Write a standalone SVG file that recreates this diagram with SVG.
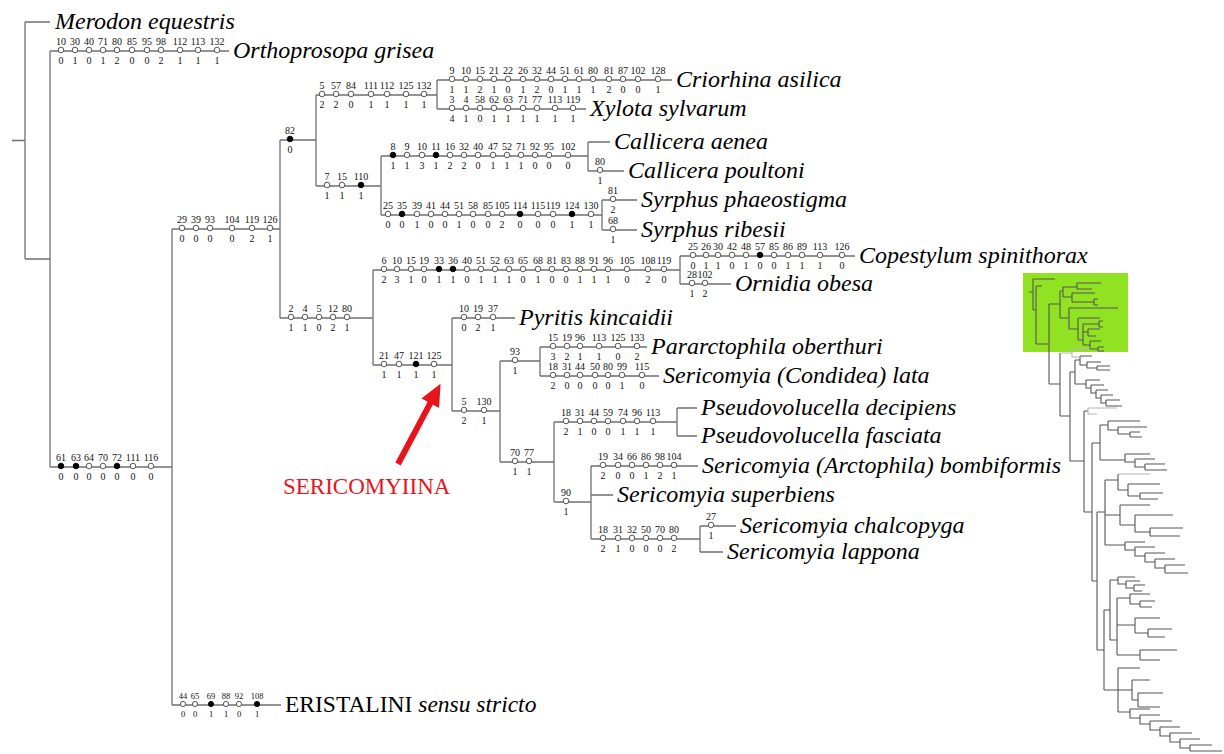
<svg xmlns="http://www.w3.org/2000/svg" width="1224" height="754" viewBox="0 0 1224 754">
<style>
.br{fill:none;stroke:#707070;stroke-width:1.3}
.o{fill:#fff;stroke:#444;stroke-width:0.9}
.f{fill:#000;stroke:#000;stroke-width:0.9}
.n{font-family:"Liberation Serif",serif;font-size:10px;text-anchor:middle;fill:#111}
.e{font-family:"Liberation Serif",serif;font-size:8.5px;text-anchor:middle;fill:#111}
.t{font-family:"Liberation Serif",serif;font-style:italic;font-size:24px;fill:#000}
.r{font-family:"Liberation Serif",serif;font-size:23.5px;fill:#000}
.mt{fill:none;stroke:#555;stroke-width:1.1}
.ml{fill:none;stroke:#b4b4b4;stroke-width:1.1}
</style>
<defs>
<marker id="ah" markerUnits="userSpaceOnUse" markerWidth="22" markerHeight="20" viewBox="0 0 22 20" refX="1" refY="10" orient="auto"><path d="M0,0 L22,10 L0,20 z" fill="#e8141c"/></marker>
</defs>
<rect width="1224" height="754" fill="#fff"/>

<g id="connectors">
<path class="br" d="M12,140.5 H25 M25,22 V259 M25,22 H50 M25,259 H50
M50,51 V467 M50,51 H229 M50,467 H172
M172,229 V705 M172,229 H280 M172,705 H281
M280,140 V318 M280,140 H316 M280,318 H373
M316,95 V186 M316,95 H437 M316,186 H381
M437,80 V109 M437,80 H672 M437,109 H586
M381,156 V215 M381,156 H588 M381,215 H602
M588,142 V171 M588,142 H610 M588,171 H624
M602,200 V230 M602,200 H637 M602,230 H637
M373,270 V365 M373,270 H680 M373,365 H452
M680,256 V284 M680,256 H855 M680,284 H731
M452,318 V411 M452,318 H515 M452,411 H500
M500,361 V462 M500,361 H540 M500,462 H554
M540,347 V376 M540,347 H647 M540,376 H659
M554,422 V502 M554,422 H677 M554,502 H591
M677,408 V436 M677,408 H697 M677,436 H697
M591,466 V539 M591,466 H698 M591,495 H613 M591,539 H700
M700,526 V552 M700,526 H736 M700,552 H723"/>
</g>

<g id="taxon-merodon"><text class="t" x="55" y="29">Merodon equestris</text></g>
<g id="taxon-orthoprosopa">
<text class="t" x="233" y="58">Orthoprosopa grisea</text>
<circle class="o" cx="61" cy="50" r="2.8"/><circle class="o" cx="75" cy="50" r="2.8"/><circle class="o" cx="89" cy="50" r="2.8"/><circle class="o" cx="103" cy="50" r="2.8"/><circle class="o" cx="117" cy="50" r="2.8"/><circle class="o" cx="132" cy="50" r="2.8"/><circle class="o" cx="147" cy="50" r="2.8"/><circle class="o" cx="161" cy="50" r="2.8"/><circle class="o" cx="180" cy="50" r="2.8"/><circle class="o" cx="198" cy="50" r="2.8"/><circle class="o" cx="217" cy="50" r="2.8"/>
<text class="n" x="61" y="45">10</text><text class="n" x="75" y="45">30</text><text class="n" x="89" y="45">40</text><text class="n" x="103" y="45">71</text><text class="n" x="117" y="45">80</text><text class="n" x="132" y="45">85</text><text class="n" x="147" y="45">95</text><text class="n" x="161" y="45">98</text><text class="n" x="180" y="45">112</text><text class="n" x="198" y="45">113</text><text class="n" x="217" y="45">132</text>
<text class="n" x="61" y="64">0</text><text class="n" x="75" y="64">1</text><text class="n" x="89" y="64">0</text><text class="n" x="103" y="64">1</text><text class="n" x="117" y="64">2</text><text class="n" x="132" y="64">0</text><text class="n" x="147" y="64">0</text><text class="n" x="161" y="64">2</text><text class="n" x="180" y="64">1</text><text class="n" x="198" y="64">1</text><text class="n" x="217" y="64">1</text>
</g>

<g id="node-5-57">
<circle class="o" cx="322" cy="94" r="2.8"/><circle class="o" cx="336" cy="94" r="2.8"/><circle class="o" cx="351" cy="94" r="2.8"/><circle class="o" cx="371" cy="94" r="2.8"/><circle class="o" cx="387" cy="94" r="2.8"/><circle class="o" cx="406" cy="94" r="2.8"/><circle class="o" cx="424" cy="94" r="2.8"/>
<text class="n" x="322" y="89">5</text><text class="n" x="336" y="89">57</text><text class="n" x="351" y="89">84</text><text class="n" x="371" y="89">111</text><text class="n" x="387" y="89">112</text><text class="n" x="406" y="89">125</text><text class="n" x="424" y="89">132</text>
<text class="n" x="322" y="108">2</text><text class="n" x="336" y="108">2</text><text class="n" x="351" y="108">0</text><text class="n" x="371" y="108">1</text><text class="n" x="387" y="108">1</text><text class="n" x="406" y="108">1</text><text class="n" x="424" y="108">1</text>
</g>

<g id="taxon-criorhina">
<text class="t" x="676" y="87">Criorhina asilica</text>
<circle class="o" cx="452" cy="79" r="2.8"/><circle class="o" cx="466" cy="79" r="2.8"/><circle class="o" cx="480" cy="79" r="2.8"/><circle class="o" cx="494" cy="79" r="2.8"/><circle class="o" cx="508" cy="79" r="2.8"/><circle class="o" cx="523" cy="79" r="2.8"/><circle class="o" cx="537" cy="79" r="2.8"/><circle class="o" cx="551" cy="79" r="2.8"/><circle class="o" cx="565" cy="79" r="2.8"/><circle class="o" cx="579" cy="79" r="2.8"/><circle class="o" cx="593" cy="79" r="2.8"/><circle class="o" cx="609" cy="79" r="2.8"/><circle class="o" cx="623" cy="79" r="2.8"/><circle class="o" cx="638" cy="79" r="2.8"/><circle class="o" cx="658" cy="79" r="2.8"/>
<text class="n" x="452" y="74">9</text><text class="n" x="466" y="74">10</text><text class="n" x="480" y="74">15</text><text class="n" x="494" y="74">21</text><text class="n" x="508" y="74">22</text><text class="n" x="523" y="74">26</text><text class="n" x="537" y="74">32</text><text class="n" x="551" y="74">44</text><text class="n" x="565" y="74">51</text><text class="n" x="579" y="74">61</text><text class="n" x="593" y="74">80</text><text class="n" x="609" y="74">81</text><text class="n" x="623" y="74">87</text><text class="n" x="638" y="74">102</text><text class="n" x="658" y="74">128</text>
<text class="n" x="452" y="93">1</text><text class="n" x="466" y="93">1</text><text class="n" x="480" y="93">2</text><text class="n" x="494" y="93">1</text><text class="n" x="508" y="93">0</text><text class="n" x="523" y="93">1</text><text class="n" x="537" y="93">2</text><text class="n" x="551" y="93">0</text><text class="n" x="565" y="93">1</text><text class="n" x="579" y="93">1</text><text class="n" x="593" y="93">1</text><text class="n" x="609" y="93">2</text><text class="n" x="623" y="93">0</text><text class="n" x="638" y="93">0</text><text class="n" x="658" y="93">1</text>
</g>

<g id="taxon-xylota">
<text class="t" x="590" y="116">Xylota sylvarum</text>
<circle class="o" cx="452" cy="108" r="2.8"/><circle class="o" cx="466" cy="108" r="2.8"/><circle class="o" cx="480" cy="108" r="2.8"/><circle class="o" cx="494" cy="108" r="2.8"/><circle class="o" cx="508" cy="108" r="2.8"/><circle class="o" cx="523" cy="108" r="2.8"/><circle class="o" cx="537" cy="108" r="2.8"/><circle class="o" cx="555" cy="108" r="2.8"/><circle class="o" cx="573" cy="108" r="2.8"/>
<text class="n" x="452" y="103">3</text><text class="n" x="466" y="103">4</text><text class="n" x="480" y="103">58</text><text class="n" x="494" y="103">62</text><text class="n" x="508" y="103">63</text><text class="n" x="523" y="103">71</text><text class="n" x="537" y="103">77</text><text class="n" x="555" y="103">113</text><text class="n" x="573" y="103">119</text>
<text class="n" x="452" y="122">4</text><text class="n" x="466" y="122">1</text><text class="n" x="480" y="122">0</text><text class="n" x="494" y="122">1</text><text class="n" x="508" y="122">1</text><text class="n" x="523" y="122">1</text><text class="n" x="537" y="122">1</text><text class="n" x="555" y="122">1</text><text class="n" x="573" y="122">1</text>
</g>

<g id="node-82">
<circle class="f" cx="290" cy="139" r="2.8"/>
<text class="n" x="290" y="134">82</text><text class="n" x="290" y="153">0</text>
</g>

<g id="node-7-15">
<circle class="o" cx="327" cy="185" r="2.8"/><circle class="o" cx="342" cy="185" r="2.8"/><circle class="f" cx="361" cy="185" r="2.8"/>
<text class="n" x="327" y="180">7</text><text class="n" x="342" y="180">15</text><text class="n" x="361" y="180">110</text>
<text class="n" x="327" y="199">1</text><text class="n" x="342" y="199">1</text><text class="n" x="361" y="199">1</text>
</g>

<g id="node-callicera">
<circle class="f" cx="393" cy="155" r="2.8"/><circle class="o" cx="407" cy="155" r="2.8"/><circle class="o" cx="422" cy="155" r="2.8"/><circle class="f" cx="436" cy="155" r="2.8"/><circle class="o" cx="450" cy="155" r="2.8"/><circle class="o" cx="464" cy="155" r="2.8"/><circle class="o" cx="478" cy="155" r="2.8"/><circle class="o" cx="493" cy="155" r="2.8"/><circle class="o" cx="507" cy="155" r="2.8"/><circle class="o" cx="521" cy="155" r="2.8"/><circle class="o" cx="535" cy="155" r="2.8"/><circle class="o" cx="549" cy="155" r="2.8"/><circle class="o" cx="568" cy="155" r="2.8"/>
<text class="n" x="393" y="150">8</text><text class="n" x="407" y="150">9</text><text class="n" x="422" y="150">10</text><text class="n" x="436" y="150">11</text><text class="n" x="450" y="150">16</text><text class="n" x="464" y="150">32</text><text class="n" x="478" y="150">40</text><text class="n" x="493" y="150">47</text><text class="n" x="507" y="150">52</text><text class="n" x="521" y="150">71</text><text class="n" x="535" y="150">92</text><text class="n" x="549" y="150">95</text><text class="n" x="568" y="150">102</text>
<text class="n" x="393" y="169">1</text><text class="n" x="407" y="169">1</text><text class="n" x="422" y="169">3</text><text class="n" x="436" y="169">1</text><text class="n" x="450" y="169">2</text><text class="n" x="464" y="169">2</text><text class="n" x="478" y="169">0</text><text class="n" x="493" y="169">1</text><text class="n" x="507" y="169">1</text><text class="n" x="521" y="169">1</text><text class="n" x="535" y="169">0</text><text class="n" x="549" y="169">0</text><text class="n" x="568" y="169">0</text>
</g>
<g id="taxon-callicera-aenea"><text class="t" x="614" y="149">Callicera aenea</text></g>
<g id="taxon-callicera-poultoni">
<text class="t" x="628" y="178">Callicera poultoni</text>
<circle class="o" cx="600" cy="170" r="2.8"/><text class="n" x="600" y="165">80</text><text class="n" x="600" y="184">1</text>
</g>

<g id="node-syrphus">
<circle class="o" cx="388" cy="214" r="2.8"/><circle class="f" cx="402" cy="214" r="2.8"/><circle class="o" cx="417" cy="214" r="2.8"/><circle class="o" cx="431" cy="214" r="2.8"/><circle class="o" cx="445" cy="214" r="2.8"/><circle class="o" cx="459" cy="214" r="2.8"/><circle class="o" cx="473" cy="214" r="2.8"/><circle class="o" cx="488" cy="214" r="2.8"/><circle class="o" cx="502" cy="214" r="2.8"/><circle class="f" cx="520" cy="214" r="2.8"/><circle class="o" cx="538" cy="214" r="2.8"/><circle class="o" cx="553" cy="214" r="2.8"/><circle class="f" cx="572" cy="214" r="2.8"/><circle class="o" cx="591" cy="214" r="2.8"/>
<text class="n" x="388" y="209">25</text><text class="n" x="402" y="209">35</text><text class="n" x="417" y="209">39</text><text class="n" x="431" y="209">41</text><text class="n" x="445" y="209">44</text><text class="n" x="459" y="209">51</text><text class="n" x="473" y="209">58</text><text class="n" x="488" y="209">85</text><text class="n" x="502" y="209">105</text><text class="n" x="520" y="209">114</text><text class="n" x="538" y="209">115</text><text class="n" x="553" y="209">119</text><text class="n" x="572" y="209">124</text><text class="n" x="591" y="209">130</text>
<text class="n" x="388" y="228">0</text><text class="n" x="402" y="228">0</text><text class="n" x="417" y="228">1</text><text class="n" x="431" y="228">0</text><text class="n" x="445" y="228">0</text><text class="n" x="459" y="228">1</text><text class="n" x="473" y="228">0</text><text class="n" x="488" y="228">0</text><text class="n" x="502" y="228">2</text><text class="n" x="520" y="228">0</text><text class="n" x="538" y="228">0</text><text class="n" x="553" y="228">0</text><text class="n" x="572" y="228">1</text><text class="n" x="591" y="228">1</text>
</g>
<g id="taxon-syrphus-phaeostigma">
<text class="t" x="641" y="207">Syrphus phaeostigma</text>
<circle class="o" cx="613" cy="199" r="2.8"/><text class="n" x="613" y="194">81</text><text class="n" x="613" y="213">2</text>
</g>
<g id="taxon-syrphus-ribesii">
<text class="t" x="641" y="237">Syrphus ribesii</text>
<circle class="o" cx="613" cy="229" r="2.8"/><text class="n" x="613" y="224">68</text><text class="n" x="613" y="243">1</text>
</g>

<g id="node-29-39">
<circle class="o" cx="182" cy="228" r="2.8"/><circle class="o" cx="196" cy="228" r="2.8"/><circle class="o" cx="210" cy="228" r="2.8"/><circle class="o" cx="232" cy="228" r="2.8"/><circle class="o" cx="252" cy="228" r="2.8"/><circle class="o" cx="270" cy="228" r="2.8"/>
<text class="n" x="182" y="223">29</text><text class="n" x="196" y="223">39</text><text class="n" x="210" y="223">93</text><text class="n" x="232" y="223">104</text><text class="n" x="252" y="223">119</text><text class="n" x="270" y="223">126</text>
<text class="n" x="182" y="242">0</text><text class="n" x="196" y="242">0</text><text class="n" x="210" y="242">0</text><text class="n" x="232" y="242">0</text><text class="n" x="252" y="242">2</text><text class="n" x="270" y="242">1</text>
</g>

<g id="node-6-10">
<circle class="o" cx="384" cy="269" r="2.8"/><circle class="o" cx="397" cy="269" r="2.8"/><circle class="o" cx="411" cy="269" r="2.8"/><circle class="o" cx="424" cy="269" r="2.8"/><circle class="f" cx="439" cy="269" r="2.8"/><circle class="f" cx="453" cy="269" r="2.8"/><circle class="o" cx="467" cy="269" r="2.8"/><circle class="o" cx="481" cy="269" r="2.8"/><circle class="o" cx="495" cy="269" r="2.8"/><circle class="o" cx="509" cy="269" r="2.8"/><circle class="o" cx="523" cy="269" r="2.8"/><circle class="o" cx="538" cy="269" r="2.8"/><circle class="o" cx="552" cy="269" r="2.8"/><circle class="o" cx="566" cy="269" r="2.8"/><circle class="o" cx="580" cy="269" r="2.8"/><circle class="o" cx="594" cy="269" r="2.8"/><circle class="o" cx="608" cy="269" r="2.8"/><circle class="o" cx="627" cy="269" r="2.8"/><circle class="o" cx="648" cy="269" r="2.8"/><circle class="o" cx="664" cy="269" r="2.8"/>
<text class="n" x="384" y="264">6</text><text class="n" x="397" y="264">10</text><text class="n" x="411" y="264">15</text><text class="n" x="424" y="264">19</text><text class="n" x="439" y="264">33</text><text class="n" x="453" y="264">36</text><text class="n" x="467" y="264">40</text><text class="n" x="481" y="264">51</text><text class="n" x="495" y="264">52</text><text class="n" x="509" y="264">63</text><text class="n" x="523" y="264">65</text><text class="n" x="538" y="264">68</text><text class="n" x="552" y="264">81</text><text class="n" x="566" y="264">83</text><text class="n" x="580" y="264">88</text><text class="n" x="594" y="264">91</text><text class="n" x="608" y="264">96</text><text class="n" x="627" y="264">105</text><text class="n" x="648" y="264">108</text><text class="n" x="664" y="264">119</text>
<text class="n" x="384" y="283">2</text><text class="n" x="397" y="283">3</text><text class="n" x="411" y="283">1</text><text class="n" x="424" y="283">0</text><text class="n" x="439" y="283">1</text><text class="n" x="453" y="283">1</text><text class="n" x="467" y="283">0</text><text class="n" x="481" y="283">1</text><text class="n" x="495" y="283">1</text><text class="n" x="509" y="283">1</text><text class="n" x="523" y="283">0</text><text class="n" x="538" y="283">1</text><text class="n" x="552" y="283">0</text><text class="n" x="566" y="283">0</text><text class="n" x="580" y="283">1</text><text class="n" x="594" y="283">1</text><text class="n" x="608" y="283">1</text><text class="n" x="627" y="283">0</text><text class="n" x="648" y="283">2</text><text class="n" x="664" y="283">0</text>
</g>

<g id="taxon-copestylum">
<text class="t" x="859" y="263">Copestylum spinithorax</text>
<circle class="o" cx="693" cy="255" r="2.8"/><circle class="o" cx="706" cy="255" r="2.8"/><circle class="o" cx="718" cy="255" r="2.8"/><circle class="o" cx="732" cy="255" r="2.8"/><circle class="o" cx="746" cy="255" r="2.8"/><circle class="f" cx="760" cy="255" r="2.8"/><circle class="o" cx="774" cy="255" r="2.8"/><circle class="o" cx="788" cy="255" r="2.8"/><circle class="o" cx="802" cy="255" r="2.8"/><circle class="o" cx="820" cy="255" r="2.8"/><circle class="o" cx="842" cy="255" r="2.8"/>
<text class="n" x="693" y="250">25</text><text class="n" x="706" y="250">26</text><text class="n" x="718" y="250">30</text><text class="n" x="732" y="250">42</text><text class="n" x="746" y="250">48</text><text class="n" x="760" y="250">57</text><text class="n" x="774" y="250">85</text><text class="n" x="788" y="250">86</text><text class="n" x="802" y="250">89</text><text class="n" x="820" y="250">113</text><text class="n" x="842" y="250">126</text>
<text class="n" x="693" y="269">0</text><text class="n" x="706" y="269">1</text><text class="n" x="718" y="269">1</text><text class="n" x="732" y="269">0</text><text class="n" x="746" y="269">1</text><text class="n" x="760" y="269">0</text><text class="n" x="774" y="269">0</text><text class="n" x="788" y="269">1</text><text class="n" x="802" y="269">1</text><text class="n" x="820" y="269">1</text><text class="n" x="842" y="269">0</text>
</g>
<g id="taxon-ornidia">
<text class="t" x="735" y="291">Ornidia obesa</text>
<circle class="o" cx="692" cy="283" r="2.8"/><circle class="o" cx="705" cy="283" r="2.8"/>
<text class="n" x="692" y="278">28</text><text class="n" x="705" y="278">102</text>
<text class="n" x="692" y="297">1</text><text class="n" x="705" y="297">2</text>
</g>

<g id="node-2-4">
<circle class="o" cx="291" cy="317" r="2.8"/><circle class="o" cx="305" cy="317" r="2.8"/><circle class="o" cx="319" cy="317" r="2.8"/><circle class="o" cx="333" cy="317" r="2.8"/><circle class="o" cx="347" cy="317" r="2.8"/>
<text class="n" x="291" y="312">2</text><text class="n" x="305" y="312">4</text><text class="n" x="319" y="312">5</text><text class="n" x="333" y="312">12</text><text class="n" x="347" y="312">80</text>
<text class="n" x="291" y="331">1</text><text class="n" x="305" y="331">1</text><text class="n" x="319" y="331">0</text><text class="n" x="333" y="331">2</text><text class="n" x="347" y="331">1</text>
</g>

<g id="node-sericomyiina">
<circle class="o" cx="384" cy="364" r="2.8"/><circle class="o" cx="399" cy="364" r="2.8"/><circle class="f" cx="416" cy="364" r="2.8"/><circle class="o" cx="434" cy="364" r="2.8"/>
<text class="n" x="384" y="359">21</text><text class="n" x="399" y="359">47</text><text class="n" x="416" y="359">121</text><text class="n" x="434" y="359">125</text>
<text class="n" x="384" y="378">1</text><text class="n" x="399" y="378">1</text><text class="n" x="416" y="378">1</text><text class="n" x="434" y="378">1</text>
</g>

<g id="taxon-pyritis">
<text class="t" x="519" y="325">Pyritis kincaidii</text>
<circle class="o" cx="464" cy="317" r="2.8"/><circle class="o" cx="478" cy="317" r="2.8"/><circle class="o" cx="493" cy="317" r="2.8"/>
<text class="n" x="464" y="312">10</text><text class="n" x="478" y="312">19</text><text class="n" x="493" y="312">37</text>
<text class="n" x="464" y="331">0</text><text class="n" x="478" y="331">2</text><text class="n" x="493" y="331">1</text>
</g>

<g id="node-5-130">
<circle class="o" cx="464" cy="410" r="2.8"/><circle class="o" cx="484" cy="410" r="2.8"/>
<text class="n" x="464" y="405">5</text><text class="n" x="484" y="405">130</text>
<text class="n" x="464" y="424">2</text><text class="n" x="484" y="424">1</text>
</g>

<g id="node-93">
<circle class="o" cx="515" cy="360" r="2.8"/><text class="n" x="515" y="355">93</text><text class="n" x="515" y="374">1</text>
</g>

<g id="taxon-pararctophila">
<text class="t" x="651" y="354">Pararctophila oberthuri</text>
<circle class="o" cx="553" cy="346" r="2.8"/><circle class="o" cx="567" cy="346" r="2.8"/><circle class="o" cx="580" cy="346" r="2.8"/><circle class="o" cx="599" cy="346" r="2.8"/><circle class="o" cx="618" cy="346" r="2.8"/><circle class="o" cx="637" cy="346" r="2.8"/>
<text class="n" x="553" y="341">15</text><text class="n" x="567" y="341">19</text><text class="n" x="580" y="341">96</text><text class="n" x="599" y="341">113</text><text class="n" x="618" y="341">125</text><text class="n" x="637" y="341">133</text>
<text class="n" x="553" y="360">3</text><text class="n" x="567" y="360">2</text><text class="n" x="580" y="360">1</text><text class="n" x="599" y="360">1</text><text class="n" x="618" y="360">0</text><text class="n" x="637" y="360">2</text>
</g>
<g id="taxon-sericomyia-lata">
<text class="t" x="663" y="383">Sericomyia (Condidea) lata</text>
<circle class="o" cx="553" cy="375" r="2.8"/><circle class="o" cx="567" cy="375" r="2.8"/><circle class="o" cx="580" cy="375" r="2.8"/><circle class="o" cx="595" cy="375" r="2.8"/><circle class="o" cx="608" cy="375" r="2.8"/><circle class="o" cx="622" cy="375" r="2.8"/><circle class="o" cx="642" cy="375" r="2.8"/>
<text class="n" x="553" y="370">18</text><text class="n" x="567" y="370">31</text><text class="n" x="580" y="370">44</text><text class="n" x="595" y="370">50</text><text class="n" x="608" y="370">80</text><text class="n" x="622" y="370">99</text><text class="n" x="642" y="370">115</text>
<text class="n" x="553" y="389">2</text><text class="n" x="567" y="389">0</text><text class="n" x="580" y="389">0</text><text class="n" x="595" y="389">0</text><text class="n" x="608" y="389">0</text><text class="n" x="622" y="389">1</text><text class="n" x="642" y="389">0</text>
</g>

<g id="node-70-77">
<circle class="o" cx="515" cy="461" r="2.8"/><circle class="o" cx="529" cy="461" r="2.8"/>
<text class="n" x="515" y="456">70</text><text class="n" x="529" y="456">77</text>
<text class="n" x="515" y="475">1</text><text class="n" x="529" y="475">1</text>
</g>

<g id="node-pseudovolucella">
<circle class="o" cx="566" cy="421" r="2.8"/><circle class="o" cx="580" cy="421" r="2.8"/><circle class="o" cx="594" cy="421" r="2.8"/><circle class="o" cx="608" cy="421" r="2.8"/><circle class="o" cx="623" cy="421" r="2.8"/><circle class="o" cx="637" cy="421" r="2.8"/><circle class="o" cx="653" cy="421" r="2.8"/>
<text class="n" x="566" y="416">18</text><text class="n" x="580" y="416">31</text><text class="n" x="594" y="416">44</text><text class="n" x="608" y="416">59</text><text class="n" x="623" y="416">74</text><text class="n" x="637" y="416">96</text><text class="n" x="653" y="416">113</text>
<text class="n" x="566" y="435">2</text><text class="n" x="580" y="435">1</text><text class="n" x="594" y="435">0</text><text class="n" x="608" y="435">0</text><text class="n" x="623" y="435">1</text><text class="n" x="637" y="435">1</text><text class="n" x="653" y="435">1</text>
</g>
<g id="taxon-pseudovolucella-decipiens"><text class="t" x="701" y="415">Pseudovolucella decipiens</text></g>
<g id="taxon-pseudovolucella-fasciata"><text class="t" x="701" y="443">Pseudovolucella fasciata</text></g>

<g id="node-90">
<circle class="o" cx="566" cy="501" r="2.8"/><text class="n" x="566" y="496">90</text><text class="n" x="566" y="515">1</text>
</g>

<g id="taxon-sericomyia-bombiformis">
<text class="t" x="702" y="473">Sericomyia (Arctophila) bombiformis</text>
<circle class="o" cx="603" cy="465" r="2.8"/><circle class="o" cx="618" cy="465" r="2.8"/><circle class="o" cx="632" cy="465" r="2.8"/><circle class="o" cx="646" cy="465" r="2.8"/><circle class="o" cx="660" cy="465" r="2.8"/><circle class="o" cx="674" cy="465" r="2.8"/>
<text class="n" x="603" y="460">19</text><text class="n" x="618" y="460">34</text><text class="n" x="632" y="460">66</text><text class="n" x="646" y="460">86</text><text class="n" x="660" y="460">98</text><text class="n" x="674" y="460">104</text>
<text class="n" x="603" y="479">2</text><text class="n" x="618" y="479">0</text><text class="n" x="632" y="479">0</text><text class="n" x="646" y="479">1</text><text class="n" x="660" y="479">2</text><text class="n" x="674" y="479">1</text>
</g>
<g id="taxon-sericomyia-superbiens"><text class="t" x="617" y="502">Sericomyia superbiens</text></g>

<g id="node-18-31-32">
<circle class="o" cx="603" cy="538" r="2.8"/><circle class="o" cx="618" cy="538" r="2.8"/><circle class="o" cx="632" cy="538" r="2.8"/><circle class="o" cx="646" cy="538" r="2.8"/><circle class="o" cx="660" cy="538" r="2.8"/><circle class="o" cx="674" cy="538" r="2.8"/>
<text class="n" x="603" y="533">18</text><text class="n" x="618" y="533">31</text><text class="n" x="632" y="533">32</text><text class="n" x="646" y="533">50</text><text class="n" x="660" y="533">70</text><text class="n" x="674" y="533">80</text>
<text class="n" x="603" y="552">2</text><text class="n" x="618" y="552">1</text><text class="n" x="632" y="552">0</text><text class="n" x="646" y="552">0</text><text class="n" x="660" y="552">0</text><text class="n" x="674" y="552">2</text>
</g>
<g id="taxon-sericomyia-chalcopyga">
<text class="t" x="740" y="533">Sericomyia chalcopyga</text>
<circle class="o" cx="711" cy="525" r="2.8"/><text class="n" x="711" y="520">27</text><text class="n" x="711" y="539">1</text>
</g>
<g id="taxon-sericomyia-lappona"><text class="t" x="727" y="559">Sericomyia lappona</text></g>

<g id="node-61-63">
<circle class="f" cx="61" cy="466" r="2.8"/><circle class="f" cx="76" cy="466" r="2.8"/><circle class="o" cx="89" cy="466" r="2.8"/><circle class="o" cx="103" cy="466" r="2.8"/><circle class="f" cx="117" cy="466" r="2.8"/><circle class="o" cx="133" cy="466" r="2.8"/><circle class="o" cx="151" cy="466" r="2.8"/>
<text class="n" x="61" y="461">61</text><text class="n" x="76" y="461">63</text><text class="n" x="89" y="461">64</text><text class="n" x="103" y="461">70</text><text class="n" x="117" y="461">72</text><text class="n" x="133" y="461">111</text><text class="n" x="151" y="461">116</text>
<text class="n" x="61" y="480">0</text><text class="n" x="76" y="480">0</text><text class="n" x="89" y="480">0</text><text class="n" x="103" y="480">0</text><text class="n" x="117" y="480">0</text><text class="n" x="133" y="480">0</text><text class="n" x="151" y="480">0</text>
</g>

<g id="taxon-eristalini">
<text class="r" x="285" y="712">ERISTALINI <tspan font-style="italic">sensu stricto</tspan></text>
<circle class="o" cx="183" cy="704" r="2.6"/><circle class="o" cx="195" cy="704" r="2.6"/><circle class="f" cx="211" cy="704" r="2.6"/><circle class="o" cx="226" cy="704" r="2.6"/><circle class="o" cx="239" cy="704" r="2.6"/><circle class="f" cx="257" cy="704" r="2.6"/>
<text class="e" x="183" y="699">44</text><text class="e" x="195" y="699">65</text><text class="e" x="211" y="699">69</text><text class="e" x="226" y="699">88</text><text class="e" x="239" y="699">92</text><text class="e" x="257" y="699">108</text>
<text class="e" x="183" y="717">0</text><text class="e" x="195" y="717">0</text><text class="e" x="211" y="717">1</text><text class="e" x="226" y="717">1</text><text class="e" x="239" y="717">0</text><text class="e" x="257" y="717">1</text>
</g>

<g id="annotation-sericomyiina">
<line x1="398" y1="464" x2="430.7" y2="402.4" stroke="#e8141c" stroke-width="6" marker-end="url(#ah)"/>
<text x="283" y="494" font-family="'Liberation Serif',serif" font-size="23px" fill="#e8141c">SERICOMYIINA</text>
</g>

<g id="overview-tree">
<rect x="1023" y="273" width="105" height="79" fill="#92e224"/>
<path class="mt" d="M1029,292 H1033 M1033,279 V310 M1033,279 H1055 M1033,310 H1036 M1036,286 V344 M1036,286 H1042 M1036,344 H1049
M1049,304 V384 M1049,304 H1060
M1060,291 V318 M1060,291 H1063 M1063,287 V297 M1063,287 H1077 M1077,283 V289 M1077,283 H1101 M1077,289 H1092
M1063,297 H1072 M1072,293 V302 M1072,293 H1095 M1072,302 H1094 M1094,299 V305 M1094,299 H1098 M1094,305 H1098
M1060,318 H1069 M1069,308 V329 M1069,308 H1118 M1069,329 H1078 M1078,318 V340 M1078,318 H1100 M1078,340 H1083
M1083,324 V345 M1083,324 H1099 M1099,321 V327 M1099,321 H1103 M1099,327 H1103 M1083,332 H1088 M1088,329 V336 M1088,329 H1100 M1088,336 H1096
M1083,345 H1090 M1090,341 V349 M1090,341 H1101 M1090,349 H1098 M1098,347 V351 M1098,347 H1104 M1098,351 H1104
M1049,384 H1060 M1060,353 V416 M1060,416 H1070 M1070,372 V461 M1070,372 H1075 M1070,461 H1084 M1084,411 V512 M1084,411 H1088 M1084,512 H1092 M1092,443 V581 M1092,443 H1100 M1092,581 H1097 M1097,512 V650 M1097,512 H1105 M1097,650 H1104 M1104,610 V690 M1104,610 H1110 M1104,690 H1118
M1075,360 V384 M1075,360 H1080 M1080,356 V365 M1080,356 H1092 M1080,365 H1087 M1087,362 V368 M1087,362 H1101 M1087,368 H1097 M1097,366 V370 M1097,366 H1110 M1097,370 H1110
M1075,384 H1086 M1086,380 V388 H1091 M1086,380 H1100 M1091,385 V393 H1096 M1091,385 H1104 M1096,390 V398 H1101 M1096,390 H1108 M1101,395 V403 H1106 M1101,395 H1113 M1106,400 V406 M1106,400 H1120 M1106,406 H1122
M1100,425 V460 M1100,425 H1108 M1108,421 V430 M1108,421 H1140 M1108,430 H1118 M1118,427 V434 M1118,427 H1147 M1118,434 H1130 M1130,432 V437 M1130,432 H1140 M1130,437 H1142 M1100,460 H1125 M1125,454 V462 H1135 M1125,454 H1150 M1135,459 V467 H1145 M1135,459 H1155 M1145,464 V470 M1145,464 H1165 M1145,470 H1167
M1105,480 V545 M1105,480 H1118 M1118,474 V490 M1118,490 H1128 M1128,484 V496 M1128,484 H1160 M1128,496 H1140 M1140,493 V499 M1140,493 H1163 M1140,499 H1158
M1105,515 H1120 M1120,505 V525 M1120,505 H1150 M1120,525 H1135 M1135,515 V532 M1135,515 H1173 M1135,532 H1150 M1150,528 V536 M1150,528 H1183 M1150,536 H1180
M1105,545 H1125 M1125,542 V550 H1135 M1125,542 H1145 M1135,547 V556 H1145 M1135,547 H1155 M1145,553 V562 H1155 M1145,553 H1165 M1155,559 V568 H1165 M1155,559 H1175 M1165,565 V573 M1165,565 H1185 M1165,573 H1188
M1110,580 V640 M1110,580 H1118 M1118,577 V584 H1126 M1118,577 H1135 M1126,581 V588 H1134 M1126,581 H1140 M1134,585 V591 M1134,585 H1145 M1134,591 H1142
M1110,640 H1117 M1117,598 V655 M1117,598 H1130 M1130,594 V604 M1130,594 H1150 M1130,604 H1140 M1140,601 V607 M1140,601 H1155 M1140,607 H1152 M1117,625 H1135 M1135,618 V633 M1135,618 H1160 M1135,633 H1148 M1148,629 V637 M1148,629 H1172 M1148,637 H1165 M1117,655 H1140 M1140,650 V660 M1140,650 H1177 M1140,660 H1160
M1118,668 V712 M1118,668 H1140 M1118,690 H1132 M1132,680 V700 M1132,680 H1150 M1132,700 H1138 M1138,693 V707 M1138,693 H1163 M1138,707 H1160 M1118,712 H1130
M1130,709 V718 H1140 M1130,709 H1150 M1140,715 V724 H1150 M1140,715 H1160 M1150,721 V730 H1160 M1150,721 H1172 M1160,727 V736 H1170 M1160,727 H1180 M1170,733 V742 H1180 M1170,733 H1192 M1180,739 V748 H1190 M1180,739 H1200 M1190,745 V751 M1190,745 H1212 M1190,751 H1222"/>
<path class="ml" d="M1060,353 H1072 M1072,349 V357 M1072,349 H1090 M1072,357 H1083 M1088,408 V414 M1088,408 H1117 M1088,414 H1097 M1118,474 H1150"/>
</g>
</svg>
